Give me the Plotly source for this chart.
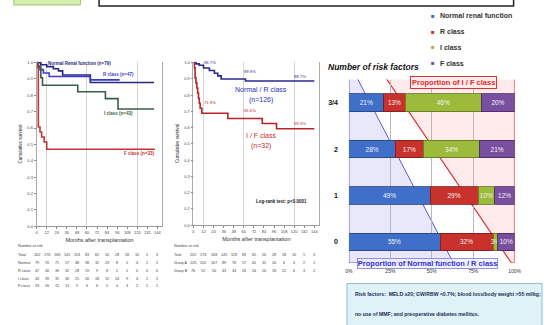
import plotly.graph_objects as go

# ---------------- data ----------------
month_ticks = list(range(0, 145, 12))

# Left KM panel (by renal function class)
normal_t = [0, 5, 12, 20, 26, 31, 64, 140]
normal_s = [1.0, 0.987, 0.975, 0.962, 0.949, 0.924, 0.878, 0.878]
rclass_t = [0, 1, 4, 8, 15, 64, 99]
rclass_s = [1.0, 0.979, 0.957, 0.936, 0.915, 0.894, 0.894]
iclass_t = [0, 2, 5, 7, 49, 82, 97, 140]
iclass_s = [1.0, 0.977, 0.907, 0.861, 0.822, 0.780, 0.716, 0.716]
fclass_t = [0, 1, 2, 4, 6, 9, 12, 141]
fclass_s = [1.0, 0.97, 0.606, 0.576, 0.545, 0.515, 0.47, 0.47]

# Middle KM panel (grouped)
nr_t = [0, 3, 7, 12, 19, 25, 29, 33, 62, 144]
nr_s = [1.0, 0.992, 0.984, 0.967, 0.951, 0.934, 0.918, 0.899, 0.887, 0.887]
if_t = [0, 1, 2, 3, 4, 5, 6, 7, 8, 10, 41, 82, 99, 144]
if_s = [1.0, 0.969, 0.906, 0.875, 0.844, 0.813, 0.781, 0.75, 0.719, 0.688, 0.656, 0.625, 0.593, 0.593]
nr_marks_t = [12, 60, 120]
nr_marks_lbl = ["96.7%", "89.9%", "88.7%"]
if_marks_lbl = ["71.9%", "65.6%", "59.3%"]

# Number at risk (left)
risk_total = [202, 176, 168, 145, 118, 83, 65, 50, 28, 18, 10, 5, 3]
risk_normal = [79, 70, 71, 57, 48, 38, 32, 23, 8, 5, 4, 2, 1]
risk_r = [47, 40, 36, 32, 28, 19, 9, 8, 2, 1, 0, 0, 0]
risk_i = [43, 39, 35, 30, 25, 20, 18, 15, 14, 9, 4, 2, 1]
risk_f = [33, 16, 15, 13, 9, 6, 6, 5, 4, 3, 2, 1, 1]
# Number at risk (middle)
risk_groupA = [126, 110, 107, 89, 76, 57, 41, 31, 10, 6, 4, 2, 1]
risk_groupB = [76, 55, 50, 43, 34, 26, 24, 20, 18, 12, 6, 3, 2]

# Right panel: stacked proportions by number of risk factors
risk_cats = ["0", "1", "2", "3/4"]
normal_pct = [55, 49, 28, 21]
r_pct = [32, 29, 17, 13]
i_pct = [3, 10, 34, 46]
f_pct = [10, 12, 21, 20]

C_NORMAL = "#3f6fc8"
C_R = "#c9312d"
C_I = "#9cbb3a"
C_F = "#7a4f9f"

FONT = "Liberation Sans, Arial, sans-serif"

fig = go.Figure()

# ---------------- KM left ----------------
km_left = [
    (normal_t, normal_s, "#27277f"),
    (rclass_t, rclass_s, "#3b3bcf"),
    (iclass_t, iclass_s, "#365f45"),
    (fclass_t, fclass_s, "#c83232"),
]
for t, s, c in km_left:
    fig.add_trace(go.Scatter(x=t, y=s, mode="lines", line=dict(color=c, width=1.6, shape="hv"),
                             xaxis="x", yaxis="y", showlegend=False, hoverinfo="skip", cliponaxis=False))

# ---------------- KM middle ----------------
fig.add_trace(go.Scatter(x=nr_t, y=nr_s, mode="lines", line=dict(color="#2a2a8e", width=1.6, shape="hv"),
                         xaxis="x2", yaxis="y2", showlegend=False, cliponaxis=False))
fig.add_trace(go.Scatter(x=if_t, y=if_s, mode="lines", line=dict(color="#b82424", width=1.6, shape="hv"),
                         xaxis="x2", yaxis="y2", showlegend=False, cliponaxis=False))

# ---------------- stacked bars ----------------
for vals, col, edge in [(normal_pct, C_NORMAL, "#23407a"), (r_pct, C_R, "#7a1d1b"),
                        (i_pct, C_I, "#5d7222"), (f_pct, C_F, "#46295e")]:
    fig.add_trace(go.Bar(y=risk_cats, x=vals, orientation="h", xaxis="x3", yaxis="y3",
                         marker=dict(color=col, line=dict(color=edge, width=0.8)),
                         width=0.38, text=[f"{v}%" for v in vals], textposition="inside",
                         insidetextanchor="middle", constraintext="none", textangle=0,
                         textfont=dict(color="#f2f2f2", size=6.5, family=FONT),
                         showlegend=False, cliponaxis=False))

km_axis_common = dict(range=[0, 150], tickvals=month_ticks, ticks="outside", ticklen=2,
                      tickcolor="#888", tickfont=dict(size=4, color="#444", family=FONT),
                      showline=True, linecolor="#999", linewidth=0.8, showgrid=False, zeroline=False,
                      minor=dict(tickvals=[12, 60, 120], showgrid=True, gridcolor="#d4d4d4", gridwidth=0.8, ticklen=0),
                      title=dict(text="Months after transplantation", font=dict(size=5.5, color="#333", family=FONT), standoff=4))
ky_common = dict(range=[0, 1.005], tickvals=[i / 10 for i in range(11)],
                 ticktext=[f"{i/10:.1f}" for i in range(11)], ticks="outside", ticklen=2, tickcolor="#888",
                 tickfont=dict(size=4, color="#444", family=FONT), showline=True, mirror=True,
                 linecolor="#aaa", linewidth=0.8, showgrid=False, zeroline=False,
                 title=dict(text="Cumulative survival", font=dict(size=4.5, color="#333", family=FONT), standoff=4))

fig.update_layout(
    width=549, height=325, margin=dict(l=0, r=0, t=0, b=0),
    paper_bgcolor="white", plot_bgcolor="white", barmode="stack",
    font=dict(family=FONT),
    xaxis=dict(domain=[33.3 / 549, 161.7 / 549], anchor="y", **km_axis_common),
    yaxis=dict(domain=[1 - 227 / 325, 1 - 60.5 / 325], anchor="x", **ky_common),
    xaxis2=dict(domain=[193.3 / 549, 321.8 / 549], anchor="y2", **km_axis_common),
    yaxis2=dict(domain=[1 - 226 / 325, 1 - 60.5 / 325], anchor="x2", **ky_common),
    xaxis3=dict(domain=[352 / 549, 521 / 549], anchor="y3", range=[0, 100],
                tickvals=[0, 25, 50, 75, 100], ticktext=["0%", "25%", "50%", "75%", "100%"],
                tickfont=dict(size=5, color="#333", family=FONT), ticklabelstandoff=4,
                showgrid=True, gridcolor="#b8b8b8", gridwidth=0.8, zeroline=False, showline=False, ticks=""),
    yaxis3=dict(domain=[1 - 264 / 325, 1 - 78.5 / 325], anchor="x3", type="category",
                categoryorder="array", categoryarray=risk_cats, range=[-0.45, 3.5],
                tickfont=dict(size=7, color="#111", family=FONT, weight="bold"), ticklabelstandoff=10,
                showgrid=False, zeroline=False, showline=False, ticks=""),
)

shapes = []
# slide header remnants
shapes.append(dict(type="rect", xref="paper", yref="paper", x0=10 / 549, x1=78 / 549, y0=1 - 3 / 325, y1=1.02,
                   fillcolor="#d6efb0", line=dict(color="#9cc76a", width=1)))
shapes.append(dict(type="rect", xref="paper", yref="paper", x0=97 / 549, x1=520 / 549, y0=1 - 4 / 325, y1=1.02,
                   fillcolor="white", line=dict(color="#222", width=1.5)))
# wedges on the proportion chart
shapes.append(dict(type="path", xref="x3", yref="y3", layer="below",
                   path="M 0,-0.45 L 0,3.55 L 4.7,3.55 L 63,-0.45 Z",
                   fillcolor="rgba(190,190,240,0.35)", line=dict(color="#5a5ad0", width=1)))
shapes.append(dict(type="path", xref="x3", yref="y3", layer="below",
                   path="M 22,3.55 L 100,3.55 L 100,-0.45 L 98,-0.45 Z",
                   fillcolor="rgba(255,190,190,0.3)", line=dict(color="#e03030", width=1.2)))
# risk factor note box
shapes.append(dict(type="rect", xref="paper", yref="paper", x0=350 / 549, x1=1.0, y0=-0.02, y1=1 - 285 / 325,
                   fillcolor="#dff2f7", line=dict(color="#9bbccc", width=1)))
fig.update_layout(shapes=shapes)

ann = []
def A(text, x, y, size, color, xref="paper", yref="paper", bold=False, xanchor="center", yanchor="middle", **kw):
    if xref == "paper":
        x = x / 549
    if yref == "paper":
        y = 1 - y / 325
    ann.append(dict(text=f"<b>{text}</b>" if bold else text, x=x, y=y, xref=xref, yref=yref,
                    xanchor=xanchor, yanchor=yanchor, showarrow=False,
                    font=dict(size=size, color=color, family=FONT), **kw))

# KM left labels
A("Normal Renal function (n=79)", 51, 0.994, 4.5, "#27277f", "x", "y", bold=True)
A("R class (n=47)", 98, 0.925, 4.5, "#3b3bcf", "x", "y", bold=True)
A("I class (n=43)", 98, 0.687, 4.5, "#365f45", "x", "y", bold=True)
A("F class (n=33)", 122, 0.446, 4.5, "#c83232", "x", "y", bold=True)

# KM middle labels
for t, lbl, yy in zip(nr_marks_t, nr_marks_lbl, [1.0, 0.945, 0.915]):
    A(lbl, t + 7.5, yy, 4.2, "#2a2a8e", "x2", "y2")
for t, lbl, yy in zip(nr_marks_t, if_marks_lbl, [0.752, 0.703, 0.624]):
    A(lbl, t + 7.5, yy, 4.2, "#b82424", "x2", "y2")
A("Normal / R class", 80, 0.836, 7, "#2d2db5", "x2", "y2")
A("(n=126)", 80, 0.772, 7, "#2d2db5", "x2", "y2")
A("I / F class", 80, 0.552, 7, "#d02a2a", "x2", "y2")
A("(n=32)", 80, 0.487, 7, "#d02a2a", "x2", "y2")
A("Log-rank test: p<0.0001", 105, 0.145, 4.5, "#222", "x2", "y2", bold=True)

# number at risk tables
A("Number at risk", 12, 247, 3.8, "#444", xanchor="left")
for lbl, row, yy in [("Total", risk_total, 256), ("Normal", risk_normal, 264), ("R class", risk_r, 272),
                     ("I class", risk_i, 280), ("F class", risk_f, 288)]:
    A(lbl, 12, yy, 3.8, "#444", xanchor="left")
    for t, v in zip(month_ticks, row):
        A(str(v), t, 1 - yy / 325, 3.8, "#444", "x", "paper2")
A("Number at risk", 171, 247, 3.8, "#444", xanchor="left")
for lbl, row, yy in [("Total", risk_total, 256), ("Group A", risk_groupA, 264), ("Group B", risk_groupB, 272)]:
    A(lbl, 171, yy, 3.5, "#444", xanchor="left")
    for t, v in zip(month_ticks, row):
        A(str(v), t, 1 - yy / 325, 3.8, "#444", "x2", "paper2")
for a in ann:
    if a["yref"] == "paper2":
        a["yref"] = "paper"

# right panel texts
A("<i>Number of risk factors</i>", 329, 66, 8.5, "#111", bold=True, xanchor="left")
A("Proportion of I / F class", 459, 81, 7.5, "#e02a2a", bold=True,
  bordercolor="#e03030", borderwidth=1, bgcolor="rgba(255,235,235,0.8)", borderpad=1)
A("Proportion of Normal function / R class", 432, 265, 7.5, "#3434c8", bold=True,
  bordercolor="#7a7ad8", borderwidth=0.8, borderpad=0, bgcolor="rgba(235,235,255,0.7)")

# legend (top right)
for name, col, yy in [("Normal renal function", C_NORMAL, 14), ("R class", C_R, 30),
                      ("I class", C_I, 46), ("F class", C_F, 62)]:
    A("■", 438, yy, 6, col)
    A(name, 443, yy, 7, "#333", bold=True, xanchor="left")

# risk factor note
A("Risk factors:  MELD \u226520; GW/RBW <0.7%; blood loss/body weight >55 ml/kg;", 356, 296, 5.1, "#1c2a5a",
  bold=True, xanchor="left")
A("no use of MMF; and preoperative diabetes mellitus.", 356, 316, 5.1, "#1c2a5a",
  bold=True, xanchor="left")

fig.update_layout(annotations=ann)
fig.write_html("out.html", config={"displayModeBar": False},
               post_script="document.body.style.margin='0px';")
